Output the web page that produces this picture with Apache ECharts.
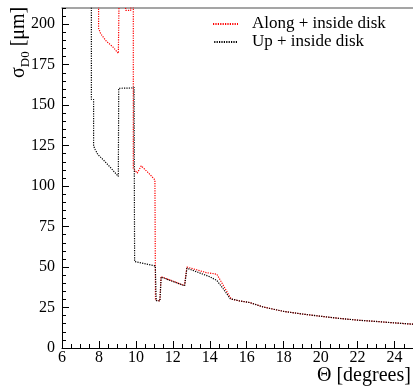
<!DOCTYPE html>
<html>
<head>
<meta charset="utf-8">
<script src="https://cdn.jsdelivr.net/npm/echarts@6/dist/echarts.min.js"></script>
<style>
html,body{margin:0;padding:0;background:#fff;}
#c{width:413px;height:388px;}
</style>
</head>
<body>
<div id="c"></div>
<script>
// Along + inside disk (red)
var thetaAlong = [7.98, 7.98, 8.10, 8.40, 8.75, 9.05, 9.14, 9.14, 9.45, 9.72, 9.86, 9.86, 10.07, 10.29, 10.69, 10.83, 11.03, 11.06, 11.30, 11.36, 12.63, 12.76, 13.80, 14.38, 15.16, 15.60, 16.15, 16.90, 18, 19, 20, 21, 22, 23, 24, 25];
var sigmaAlong = [300, 197.5, 194, 189.5, 186, 182, 182, 260, 208.5, 208.5, 260, 111, 108, 112.5, 108, 106.3, 103.8, 29.5, 29.1, 44.1, 38.6, 50, 46.6, 45.6, 30.2, 29.1, 28.1, 25.3, 22.6, 21.0, 19.6, 18.3, 17.2, 16.4, 15.5, 14.7];
// Up + inside disk (black)
var thetaUp = [7.59, 7.59, 7.71, 7.71, 7.80, 7.94, 8.21, 8.58, 9.05, 9.07, 9.75, 9.90, 9.93, 11.05, 11.10, 11.30, 11.37, 12.64, 12.76, 13.98, 14.38, 14.70, 15.10, 15.60, 16.15, 16.90, 18, 19, 20, 21, 22, 23, 24, 25];
var sigmaUp = [300, 153.5, 153.5, 124.8, 122.5, 119.5, 116.5, 112, 106, 160.4, 160.6, 161, 53.4, 50.7, 29.3, 29.1, 43.8, 38.4, 49.3, 44.1, 41.7, 37, 30.5, 29.1, 28.1, 25.3, 22.6, 21.0, 19.6, 18.3, 17.2, 16.4, 15.5, 14.7];
var xTicksMajor = 2, xTicksMinor = 0.5, yTicksMajor = 25, yTicksMinor = 5;
var xMin = 6, xMax = 25, yMin = 0, yMax = 210;
var seriesNames = ['Along + inside disk', 'Up + inside disk'];

function pairs(xs, ys){ return xs.map(function(x,i){ return [x, ys[i]]; }); }

var FONT = 'Liberation Serif';
var chart = echarts.init(document.getElementById('c'), null, {renderer:'canvas'});
var gridRect = {left: 62, right: 0, top: 8, bottom: 40, containLabel: false, outerBoundsMode: 'none'};
var option = {
  animation: false,
  backgroundColor: '#fff',
  textStyle: {fontFamily: FONT, color: '#000'},
  grid: [
    Object.assign({}, gridRect),
    Object.assign({}, gridRect)
  ],
  legend: {
    orient: 'vertical',
    left: 212, top: 15,
    padding: 0,
    itemGap: 0,
    itemWidth: 25, itemHeight: 14,
    itemStyle: {opacity: 0},
    textStyle: {fontFamily: FONT, fontSize: 17, color: '#000', lineHeight: 18, padding: [0,0,0,9]},
    data: seriesNames
  },
  xAxis: [
    {
      gridIndex: 0, type: 'value', position: 'bottom',
      min: xMin, max: xMax, interval: xTicksMajor,
      axisLine: {show: true, onZero: false, lineStyle: {color: '#000', width: 1}},
      axisTick: {show: true, inside: true, length: 7, lineStyle: {color: '#000'}},
      axisLabel: {show: true, showMaxLabel: false, fontFamily: FONT, fontSize: 16, color: '#000', margin: 2},
      splitLine: {show: false},
      name: 'Θ [degrees]', nameLocation: 'end', nameGap: -96,
      nameTextStyle: {fontFamily: FONT, fontSize: 20, color: '#000', verticalAlign: 'top', padding: [18,0,0,0]}
    },
    {
      gridIndex: 0, type: 'value', position: 'top',
      min: xMin, max: xMax, interval: xTicksMajor,
      axisLine: {show: true, onZero: false, lineStyle: {color: '#888', width: 1.5}},
      axisTick: {show: false}, axisLabel: {show: false}, splitLine: {show: false}
    },
    {
      gridIndex: 1, type: 'value', position: 'bottom',
      min: xMin, max: xMax, interval: xTicksMinor,
      axisLine: {show: false, onZero: false},
      axisTick: {show: true, inside: true, length: 4, lineStyle: {color: '#000'}},
      axisLabel: {show: false}, splitLine: {show: false}
    }
  ],
  yAxis: [
    {
      gridIndex: 0, type: 'value', position: 'left',
      min: yMin, max: yMax, interval: yTicksMajor,
      axisLine: {show: true, onZero: false, lineStyle: {color: '#000', width: 1}},
      axisTick: {show: true, inside: true, length: 7, lineStyle: {color: '#000'}},
      axisLabel: {show: true, showMaxLabel: false, fontFamily: FONT, fontSize: 16, color: '#000', margin: 7},
      splitLine: {show: false}
    },
    {
      gridIndex: 1, type: 'value', position: 'left',
      min: yMin, max: yMax, interval: yTicksMinor,
      axisLine: {show: false, onZero: false},
      axisTick: {show: true, inside: true, length: 4, lineStyle: {color: '#000'}},
      axisLabel: {show: false}, splitLine: {show: false}
    }
  ],
  graphic: [
    {
      type: 'text', x: 19, y: 78, rotation: Math.PI/2,
      style: {
        text: '{a|σ}{b|D0}{a| [μm]}',
        align: 'left', verticalAlign: 'middle',
        fill: '#000',
        rich: {
          a: {fontFamily: FONT, fontSize: 20, lineHeight: 26, verticalAlign: 'middle', fill: '#000'},
          b: {fontFamily: FONT, fontSize: 13, lineHeight: 12, verticalAlign: 'bottom', fill: '#000'}
        }
      }
    }
  ],
  series: [
    {
      name: seriesNames[0], type: 'line', xAxisIndex: 0, yAxisIndex: 0,
      data: pairs(thetaAlong, sigmaAlong),
      showSymbol: false, symbol: 'none', clip: true,
      lineStyle: {color: '#ff0000', width: 1.2, type: [1.2, 1.2]},
      itemStyle: {color: '#ff0000'}
    },
    {
      name: seriesNames[1], type: 'line', xAxisIndex: 0, yAxisIndex: 0,
      data: pairs(thetaUp, sigmaUp),
      showSymbol: false, symbol: 'none', clip: true,
      lineStyle: {color: '#000000', width: 1.2, type: [1.2, 1.2], dashOffset: 1.2},
      itemStyle: {color: '#000000'}
    }
  ]
};
chart.setOption(option);
</script>
</body>
</html>
